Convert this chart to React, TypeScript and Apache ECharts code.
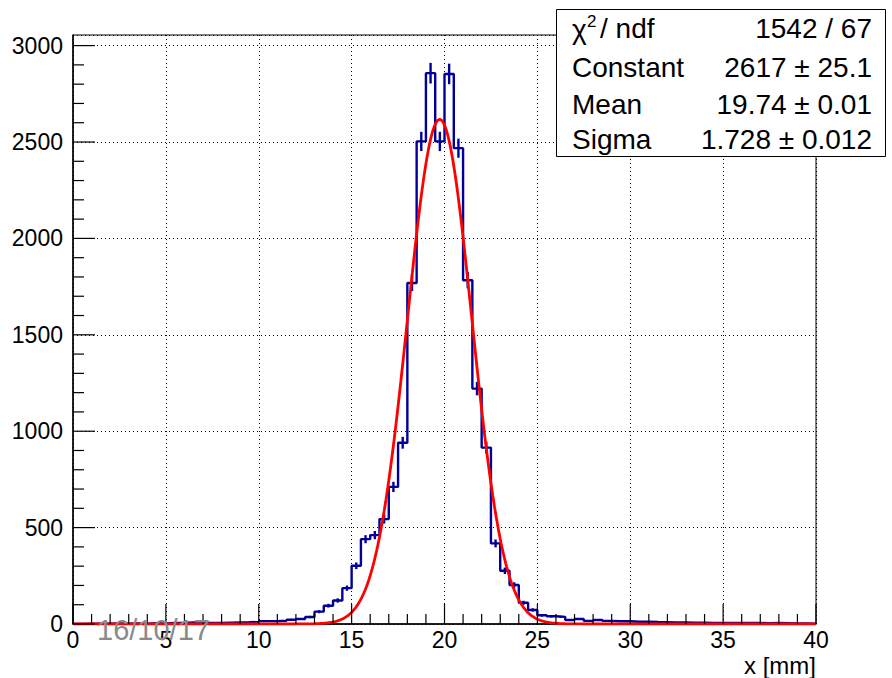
import React, { useEffect, useRef } from "react";
import * as echarts from "echarts";

// ---- data ----
const X_MIN = 0;
const X_MAX = 40;
const BIN_WIDTH = 0.5;
const Y_MAX = 3055;
const yTickValues = [0, 500, 1000, 1500, 2000, 2500, 3000];
const xTickValues = [0, 5, 10, 15, 20, 25, 30, 35, 40];
const X_MINOR_STEP = 1;
const Y_MINOR_STEP = 100;

// bin contents, 80 bins of 0.5 mm from 0 to 40
const counts0to10 = [0, 1, 2, 1, 3, 2, 3, 2, 4, 3, 5, 6, 8, 7, 5, 6, 7, 8, 9, 11];
const counts10to20 = [15, 15, 17, 22, 26, 36, 64, 95, 122, 186, 302, 440, 461, 544, 711, 940, 1769, 2503, 2857, 2503];
const counts20to30 = [2853, 2468, 1783, 1221, 915, 418, 276, 202, 110, 73, 45, 40, 37, 21, 26, 16, 21, 16, 14, 14];
const counts30to40 = [12, 12, 10, 9, 8, 8, 7, 7, 6, 6, 5, 6, 5, 5, 4, 5, 4, 3, 3, 2];
const counts = [...counts0to10, ...counts10to20, ...counts20to30, ...counts30to40];

// gaussian fit parameters (stat box)
const FIT_CONSTANT = 2617;
const FIT_MEAN = 19.74;
const FIT_SIGMA = 1.728;

const chi2Text = "1542 / 67";
const statNames = ["Constant", "Mean", "Sigma"];
const statValues = ["2617 ± 25.1", "19.74 ± 0.01", "1.728 ± 0.012"];
const dateText = "16/10/17";
const xTitle = "x [mm]";

const FONT = "'Liberation Sans', Arial, Helvetica, sans-serif";

export default function App() {
  const ref = useRef<HTMLDivElement>(null);
  useEffect(() => {
    if (!ref.current) return;
    const chart = echarts.init(ref.current, null, { renderer: "svg" });

    const stepData: number[][] = counts.map((v, i) => [X_MIN + i * BIN_WIDTH, v]);
    stepData.push([X_MAX, counts[counts.length - 1]]);
    const errData = counts.map((v, i) => [X_MIN + (i + 0.5) * BIN_WIDTH, v]);

    const fitData: number[][] = [];
    const nFit = 800;
    for (let k = 0; k <= nFit; k++) {
      const x = X_MIN + ((X_MAX - X_MIN) * k) / nFit;
      const z = (x - FIT_MEAN) / FIT_SIGMA;
      fitData.push([x, FIT_CONSTANT * Math.exp(-0.5 * z * z)]);
    }

    // axis tick marks (ROOT style, inward)
    const xTicks: number[][] = [];
    for (let v = X_MIN; v <= X_MAX + 1e-9; v += X_MINOR_STEP) {
      xTicks.push([v, 0, xTickValues.includes(v) ? 20 : 10]);
    }
    const yTicks: number[][] = [];
    for (let v = 0; v <= 3000; v += Y_MINOR_STEP) {
      yTicks.push([X_MIN, v, yTickValues.includes(v) ? 22 : 11]);
    }

    const blue = "#000099";
    const rowY = [28, 67, 104, 139];

    const graphics: any[] = [
      {
        type: "rect",
        shape: { x: 556.5, y: 9.5, width: 329, height: 147 },
        style: { fill: "#fff", stroke: "#000", lineWidth: 1 },
        z: 100,
      },
      { type: "text", x: 572, y: rowY[0] + 1, z: 101, style: { text: "χ", font: `28px ${FONT}`, fill: "#000", verticalAlign: "middle", align: "left" } },
      { type: "text", x: 587, y: 21, z: 101, style: { text: "2", font: `17px ${FONT}`, fill: "#000", verticalAlign: "middle", align: "left" } },
      { type: "text", x: 600, y: rowY[0], z: 101, style: { text: "/ ndf", font: `28px ${FONT}`, fill: "#000", verticalAlign: "middle", align: "left" } },
      { type: "text", x: 872, y: rowY[0], z: 101, style: { text: chi2Text, font: `28px ${FONT}`, fill: "#000", verticalAlign: "middle", align: "right" } },
      ...statNames.map((n, i) => ({
        type: "text", x: 572, y: rowY[i + 1], z: 101,
        style: { text: n, font: `28px ${FONT}`, fill: "#000", verticalAlign: "middle", align: "left" },
      })),
      ...statValues.map((n, i) => ({
        type: "text", x: 872, y: rowY[i + 1], z: 101,
        style: { text: n, font: `28px ${FONT}`, fill: "#000", verticalAlign: "middle", align: "right" },
      })),
      {
        type: "text", x: 97, y: 630, z: 101,
        style: { text: dateText, font: `29px ${FONT}`, fill: "#8a8a8a", verticalAlign: "middle", align: "left" },
      },
      {
        type: "text", x: 816, y: 665, z: 101,
        style: { text: xTitle, font: `24px ${FONT}`, fill: "#000", verticalAlign: "middle", align: "right" },
      },
    ];

    chart.setOption({
      animation: false,
      backgroundColor: "#fff",
      grid: {
        left: 73, right: 76, top: 35, bottom: 54,
        show: true, borderColor: "#000", borderWidth: 1, backgroundColor: "transparent",
      },
      xAxis: {
        type: "value", min: X_MIN, max: X_MAX, interval: 5,
        axisLine: { show: true, onZero: false, lineStyle: { color: "#000", width: 1.5 } },
        axisTick: { show: false },
        minorTick: { show: false },
        axisLabel: {
          fontSize: 23, color: "#000", fontFamily: FONT, margin: 4,
          showMinLabel: true, showMaxLabel: true,
          formatter: (v: number) => (xTickValues.includes(v) ? String(v) : ""),
        },
        splitLine: { show: true, lineStyle: { color: "#000", width: 1, type: [1, 3] } },
      },
      yAxis: {
        type: "value", min: 0, max: Y_MAX, interval: 500, position: "left",
        axisLine: { show: true, lineStyle: { color: "#000", width: 1.5 } },
        axisTick: { show: false },
        axisLabel: {
          fontSize: 23, color: "#000", fontFamily: FONT, margin: 10,
          showMaxLabel: false, padding: [5, 0, 0, 0],
          formatter: (v: number) => (yTickValues.includes(v) ? String(v) : ""),
        },
        splitLine: { show: true, lineStyle: { color: "#000", width: 1, type: [1, 3] } },
      },
      series: [
        {
          type: "custom", data: xTicks, z: 6, silent: true,
          renderItem: (params: any, api: any) => {
            const p = api.coord([api.value(0), api.value(1)]);
            const len = api.value(2);
            return {
              type: "line",
              shape: { x1: p[0], y1: p[1], x2: p[0], y2: p[1] - len },
              style: { stroke: "#000", lineWidth: 1.2 },
            };
          },
        },
        {
          type: "custom", data: yTicks, z: 6, silent: true,
          renderItem: (params: any, api: any) => {
            const p = api.coord([api.value(0), api.value(1)]);
            const len = api.value(2);
            return {
              type: "line",
              shape: { x1: p[0], y1: p[1], x2: p[0] + len, y2: p[1] },
              style: { stroke: "#000", lineWidth: 1.2 },
            };
          },
        },
        {
          type: "line", data: stepData, step: "end", showSymbol: false, symbol: "none",
          lineStyle: { color: blue, width: 2.4 }, z: 3,
        },
        {
          type: "custom", data: errData, z: 3,
          renderItem: (params: any, api: any) => {
            const x = api.value(0);
            const v = api.value(1);
            if (!(v > 0)) return null;
            const e = Math.sqrt(v);
            const p1 = api.coord([x, v - e]);
            const p2 = api.coord([x, v + e]);
            return {
              type: "line",
              shape: { x1: p1[0], y1: p1[1], x2: p2[0], y2: p2[1] },
              style: { stroke: blue, lineWidth: 2.4 },
            };
          },
        },
        {
          type: "line", data: fitData, showSymbol: false, symbol: "none",
          lineStyle: { color: "#ff0000", width: 2.8 }, z: 4,
        },
      ],
      graphic: graphics,
    });

    return () => chart.dispose();
  }, []);

  return (
    <div
      ref={ref}
      style={{ position: "absolute", left: 0, top: 0, width: 892, height: 678, background: "#fff" }}
    />
  );
}
